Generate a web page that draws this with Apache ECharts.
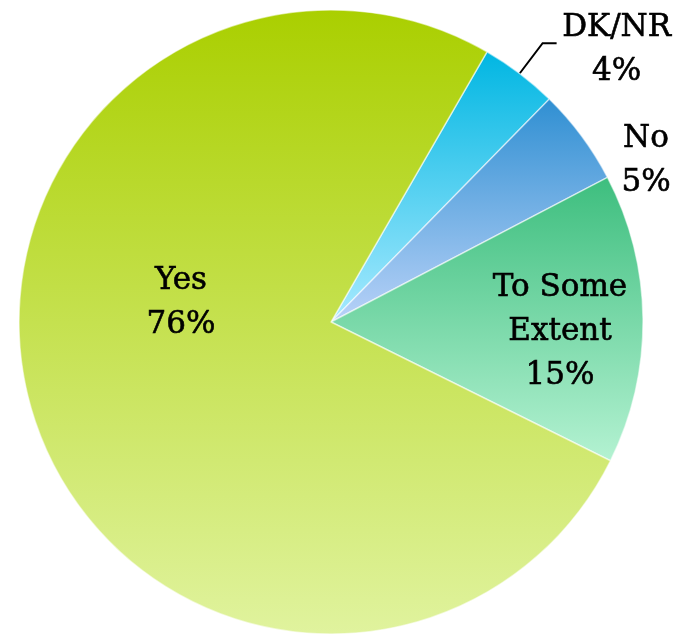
<!DOCTYPE html>
<html>
<head>
<meta charset="utf-8">
<script src="https://cdn.jsdelivr.net/npm/echarts@6/dist/echarts.min.js"></script>
<style>
html,body{margin:0;padding:0;background:#fff;}
#chart{width:681px;height:634px;}
</style>
</head>
<body>
<div id="chart"></div>
<script>
// Data (clockwise from the top-right boundary)
const categories = ['DK/NR', 'No', 'To Some Extent', 'Yes'];
const values = [4, 5, 15, 76];
const labelTexts = ['DK/NR', 'No', 'To Some\nExtent', 'Yes'];

// Styling (not data)
const gradients = [
  ['#00b6e2', '#a8eaff'],
  ['#2f8fd2', '#b9d2f8'],
  ['#3dbe7e', '#b4f2d2'],
  ['#aacf00', '#e0f39e']
];
const labelPos = [null, [646, 161], [560, 332], [181, 303]];

const chart = echarts.init(document.getElementById('chart'), null, {renderer: 'canvas'});

const data = categories.map((c, i) => {
  const item = {
    name: c,
    value: values[i],
    itemStyle: {
      color: new echarts.graphic.LinearGradient(0, 0, 0, 1, [
        {offset: 0, color: gradients[i][0]},
        {offset: 1, color: gradients[i][1]}
      ])
    }
  };
  if (i === 0) {
    item.label = {
      position: 'outside',
      formatter: '{b|' + labelTexts[i] + '}\n{b|{d}%}',
      padding: [14, 0, 0, 0],
      distanceToLabelLine: 4
    };
    item.labelLine = {show: true, length: 38, length2: 14, lineStyle: {color: '#000', width: 2}};
  } else {
    item.label = {
      position: 'inside',
      formatter: '{a|' + labelTexts[i].split('\n').join('}\n{a|') + '}\n{a|{d}%}'
    };
    item.labelLine = {show: false};
  }
  return item;
});

const txt = {fontFamily: 'DejaVu Serif', fontSize: 31, color: '#000', lineHeight: 44,
  align: 'center', textBorderColor: '#000', textBorderWidth: 0.6};

chart.setOption({
  animation: false,
  backgroundColor: '#ffffff',
  series: [{
    type: 'pie',
    center: [331, 322],
    radius: [0, 312],
    startAngle: 60,
    clockwise: true,
    avoidLabelOverlap: false,
    percentPrecision: 0,
    itemStyle: {borderColor: 'rgba(255,255,255,0.55)', borderWidth: 1.5},
    label: {
      color: '#000',
      fontFamily: 'DejaVu Serif',
      fontSize: 31,
      rich: {
        a: Object.assign({}, txt, {width: 160}),
        b: Object.assign({}, txt, {width: 112})
      }
    },
    labelLayout: function (params) {
      const p = labelPos[params.dataIndex];
      if (!p) return {};
      return {x: p[0], y: p[1], align: 'center', verticalAlign: 'middle'};
    },
    data: data
  }]
});
</script>
</body>
</html>
